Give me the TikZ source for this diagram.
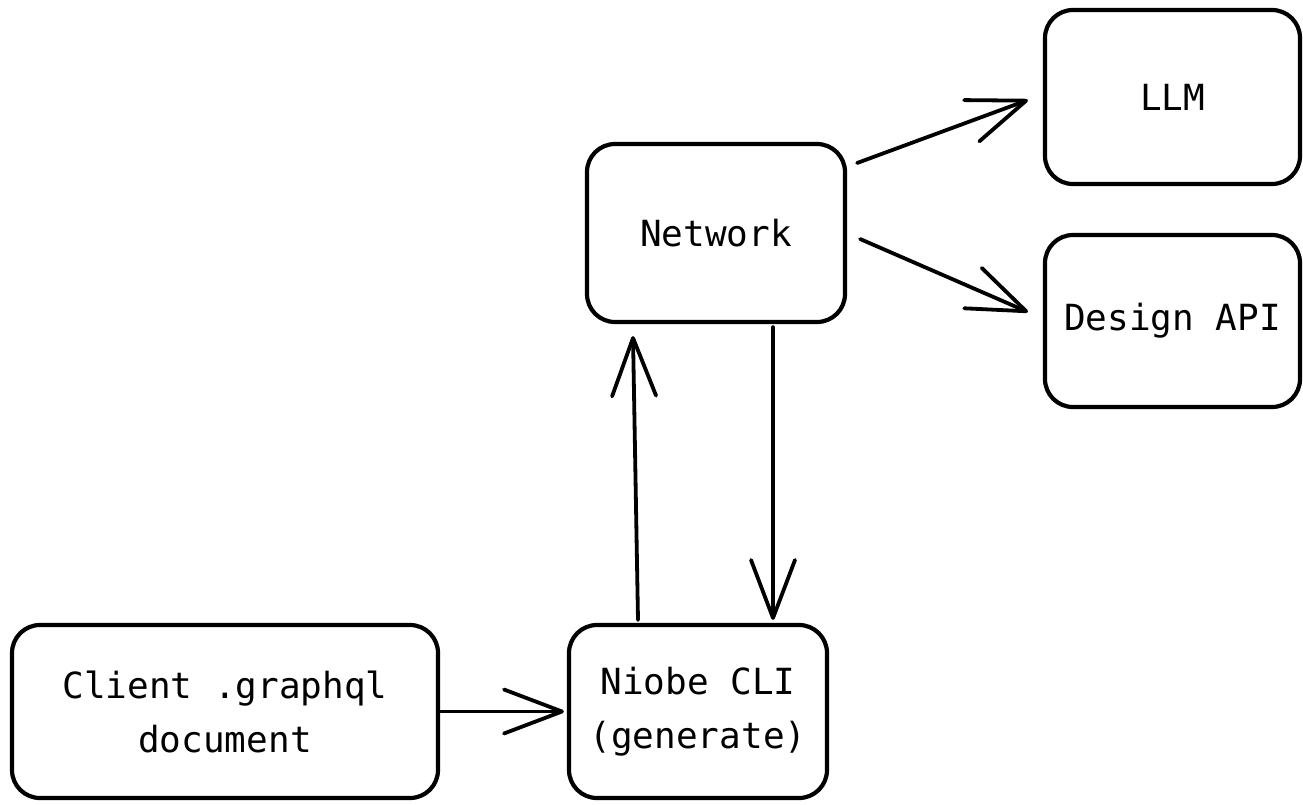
\documentclass[tikz,border=0pt]{standalone}
\usepackage{fontspec}
\setmonofont{DejaVu Sans Mono}
\usetikzlibrary{arrows.meta}
\begin{document}
\begin{tikzpicture}[x=1pt,y=-1pt,
  box/.style={draw=black, line width=4.2pt, rounded corners=28pt, fill=white,
    align=center, inner sep=0pt, font=\ttfamily\fontsize{36}{54}\selectfont},
  conn/.style={draw=black, line width=3.8pt, line cap=round, line join=round,
    -{Straight Barb[length=58pt,width=44pt,line cap=round,line join=round]}}]
\useasboundingbox[fill=white] (0,0) rectangle (1303,804);
\node[box, minimum width=426pt, minimum height=173pt] (client) at (225,711.5) {Client .graphql\\document};
\node[box, minimum width=258pt, minimum height=173pt] (niobe) at (698,711.5) {Niobe CLI\\(generate)};
\node[box, minimum width=258pt, minimum height=178pt] (net) at (716,233) {Network};
\node[box, minimum width=255pt, minimum height=174pt] (llm) at (1172.5,97) {LLM};
\node[box, minimum width=255pt, minimum height=172pt] (des) at (1172.5,321) {Design API};
\draw[conn] (client.east) -- ([xshift=-3pt]niobe.west);
\draw[conn] ([xshift=-60pt,yshift=3pt]niobe.north) -- ([xshift=-83pt,yshift=-12pt]net.south);
\draw[conn] ([xshift=57pt,yshift=-3pt]net.south) -- ([xshift=75pt,yshift=3pt]niobe.north);
\draw[conn] ([xshift=10pt,yshift=70pt]net.east) -- ([xshift=-15pt,yshift=-3pt]llm.west);
\draw[conn] ([xshift=13pt,yshift=-6pt]net.east) -- ([xshift=-15pt,yshift=9pt]des.west);
\end{tikzpicture}
\end{document}
